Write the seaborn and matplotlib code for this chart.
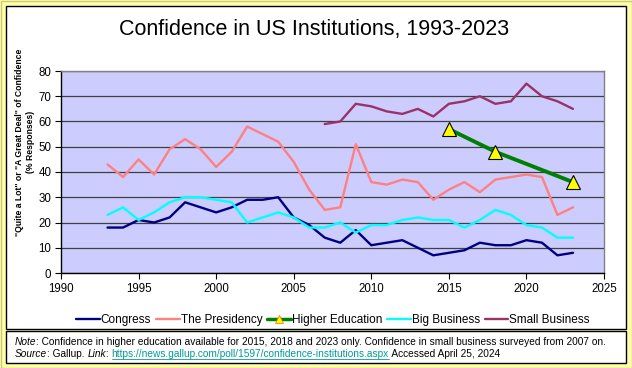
import numpy as np
import pandas as pd
import matplotlib
matplotlib.use("Agg")
import matplotlib.pyplot as plt
import seaborn as sns
from matplotlib.patches import Rectangle
from matplotlib.lines import Line2D

# Gallup confidence data (% "quite a lot" or "a great deal")
years = list(range(1993, 2024))
congress = [18, 18, 21, 20, 22, 28, 26, 24, 26, 29, 29, 30, 22, 19, 14, 12,
            17, 11, 12, 13, 10, 7, 8, 9, 12, 11, 11, 13, 12, 7, 8]
presidency = [43, 38, 45, 39, 49, 53, 49, 42, 48, 58, 55, 52, 44, 33, 25, 26,
              51, 36, 35, 37, 36, 29, 33, 36, 32, 37, 38, 39, 38, 23, 26]
big_business = [23, 26, 21, 24, 28, 30, 30, 29, 28, 20, 22, 24, 22, 18, 18, 20,
                16, 19, 19, 21, 22, 21, 21, 18, 21, 25, 23, 19, 18, 14, 14]
small_years = list(range(2007, 2024))
small_business = [59, 60, 67, 66, 64, 63, 65, 62, 67, 68, 70, 67, 68, 75, 70, 68, 65]
higher_ed_years = [2015, 2018, 2023]
higher_ed = [57, 48, 36]

sns.set_style("white")
plt.rcParams['font.family'] = ['Liberation Sans', 'DejaVu Sans']
plt.rcParams['text.color'] = 'black'

fig = plt.figure(figsize=(6.32, 3.68), dpi=100)
fig.patch.set_facecolor('#FFFFA8')

# outer border, white chart box and note box (behind the axes)
fig.patches.append(Rectangle((0.5 / 632, 0.5 / 368), 631 / 632, 367 / 368,
                             transform=fig.transFigure, facecolor='none',
                             edgecolor='#C8C880', lw=1.0, zorder=-6))
fig.patches.append(Rectangle((6 / 632, 1 - 329 / 368), 620 / 632, 323 / 368,
                             transform=fig.transFigure, facecolor='white',
                             edgecolor='black', lw=1.0, zorder=-5))
fig.patches.append(Rectangle((6 / 632, 1 - 363 / 368), 620 / 632, 32 / 368,
                             transform=fig.transFigure, facecolor='white',
                             edgecolor='black', lw=1.0, zorder=-5))

ax = fig.add_axes([61 / 632, 1 - 273 / 368, 543 / 632, 202 / 368])
ax.set_zorder(2)
ax.set_facecolor('#CCCCFF')

lw = 1.7
sns.lineplot(x=years, y=congress, color='#000080', lw=lw, ax=ax, label='Congress')
sns.lineplot(x=years, y=presidency, color='#FF8080', lw=lw, ax=ax, label='The Presidency')
sns.lineplot(x=higher_ed_years, y=higher_ed, color='#008000', lw=2.8, ax=ax,
             marker='^', markersize=10, markerfacecolor='#FFFF00',
             markeredgecolor='black', markeredgewidth=0.8, label='Higher Education')
sns.lineplot(x=years, y=big_business, color='#00FFFF', lw=lw, ax=ax, label='Big Business')
sns.lineplot(x=small_years, y=small_business, color='#993366', lw=lw, ax=ax, label='Small Business')

ax.set_xlim(1990, 2025)
ax.set_ylim(0, 80)
ax.set_xticks(range(1990, 2026, 5))
ax.set_yticks(range(0, 81, 10))
ax.tick_params(axis='both', labelsize=8.3, length=4, width=0.8, colors='black',
               direction='out', left=True, bottom=True, pad=3)
ax.yaxis.grid(True, color='#404040', lw=0.9)
ax.set_axisbelow(True)
for s in ax.spines.values():
    s.set_color('#808080')
    s.set_linewidth(1.0)
ax.spines['left'].set_color('black')
ax.spines['bottom'].set_color('black')

fig.text(25 / 632, 1 - 142 / 368,
         '"Quite a Lot" or "A Great Deal" of Confidence\n(% Responses)',
         rotation=90, ha='center', va='center', fontsize=6.2, fontweight='bold',
         linespacing=1.15, color='black')

fig.text(314 / 632, 1 - 30 / 368, 'Confidence in US Institutions, 1993-2023',
         ha='center', va='center', fontsize=15.5, color='black')

handles, labels = ax.get_legend_handles_labels()
ax.legend_.remove()
he = Line2D([], [], color='#008000', lw=2.5, marker='^', markersize=6,
            markerfacecolor='#FFFF00', markeredgecolor='#FF8000', markeredgewidth=0.6)
handles[2] = he
fig.legend(handles, labels, loc='center', bbox_to_anchor=(333 / 632, 1 - 320 / 368),
           ncol=5, frameon=False, fontsize=8.5, handlelength=2.0, handletextpad=0.1,
           columnspacing=0.4)

# note text built from pieces
fig.canvas.draw()
renderer = fig.canvas.get_renderer()


def rich_line(x0, y0, pieces):
    x = x0
    for txt, style, color, underline in pieces:
        t = fig.text(x, y0, txt, fontsize=7.3, style=style, color=color,
                     ha='left', va='center')
        bb = t.get_window_extent(renderer=renderer)
        x1 = x + bb.width / fig.bbox.width
        if underline:
            uy = y0 - 4.5 / 368
            fig.add_artist(Line2D([x, x1], [uy, uy], transform=fig.transFigure,
                                  color=color, lw=0.6))
        x = x1


rich_line(15 / 632, 1 - 342 / 368, [
    ('Note', 'italic', 'black', False),
    (': Confidence in higher education available for 2015, 2018 and 2023 only. '
     'Confidence in small business surveyed from 2007 on.', 'normal', 'black', False),
])
rich_line(15 / 632, 1 - 354 / 368, [
    ('Source', 'italic', 'black', False),
    (': Gallup. ', 'normal', 'black', False),
    ('Link', 'italic', 'black', False),
    (': ', 'normal', 'black', False),
    ('https://news.gallup.com/poll/1597/confidence-institutions.aspx', 'normal', '#009999', True),
    (' Accessed April 25, 2024', 'normal', 'black', False),
])

fig.savefig('out.png', dpi=100, facecolor=fig.get_facecolor())
